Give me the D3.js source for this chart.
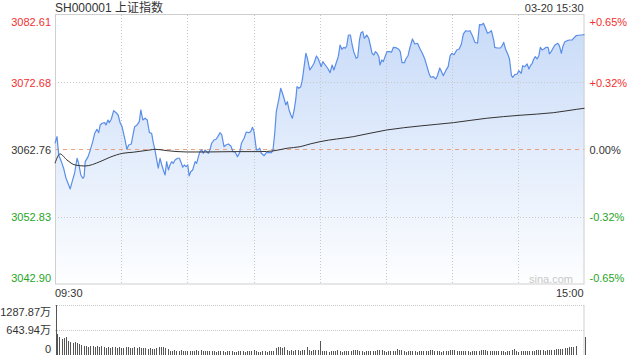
<!DOCTYPE html>
<html><head><meta charset="utf-8">
<script src="https://cdn.jsdelivr.net/npm/d3@7"></script>
<style>
html,body{margin:0;padding:0;background:#fff;}
svg{display:block;font-family:"Liberation Sans","Noto Sans CJK SC",sans-serif;}
</style></head>
<body><svg id="c" width="640" height="360"></svg>
<script>
const title = "SH000001 上证指数";
const stamp = "03-20 15:30";
const preClose = 3062.76;
const priceTicks = [3082.61, 3072.68, 3062.76, 3052.83, 3042.90];
const pctTicks = ["+0.65%", "+0.32%", "0.00%", "-0.32%", "-0.65%"];
const timeLabels = ["09:30", "15:00"];
const volTicks = [1287.87, 643.94, 0];
const volTickLabels = ["1287.87万", "643.94万", "0"];

const priceTimes = [0,0.9,1.7,2.9,3.9,5.0,6.2,6.9,8.0,8.9,10.0,10.7,11.7,12.6,13.2,13.7,15.0,16.0,17.1,18.0,19.0,19.8,20.5,21.3,22.5,23.1,24.0,24.6,25.5,26.6,27.7,28.6,29.6,30.4,31.6,32.6,33.4,34.6,35.2,36.1,37.2,38.2,38.9,
39.8,40.8,41.8,42.8,43.8,44.6,45.3,46.1,46.8,47.6,48.4,49.1,49.9,50.6,51.4,52.1,52.9,53.6,54.4,55.5,56.4,57.0,57.9,58.6,59.4,60.2,60.8,61.5,62.4,63.5,64.2,65.0,65.7,66.5,67.2,68.0,68.8,69.5,70.3,71.0,72.1,73.0,73.8,74.8,75.6,76.6,77.5,78.6,
79.7,80.7,81.7,82.7,83.7,84.5,85.7,86.7,87.8,88.7,89.5,90.2,90.8,91.3,92.0,92.8,93.5,94.8,95.8,96.9,98.1,98.8,99.6,100.3,101.4,102.3,103.1,103.8,104.6,105.3,106.1,106.9,107.6,108.4,109.1,109.7,110.5,111.4,112.1,112.9,113.7,114.4,115.5,116.5,117.4,118.5,119.2,120.1,
120.6,121.4,122.5,123.6,124.7,125.6,126.4,127.4,128.4,129.2,130.0,130.9,131.6,132.2,133.0,133.9,134.7,135.4,136.5,137.2,138.0,138.7,139.5,140.2,141.3,142.2,142.9,143.7,144.5,145.2,146.0,146.8,147.3,148.1,148.8,149.6,150.5,151.6,152.5,153.4,154.6,155.8,156.5,157.3,158.4,
159.0,160.0,160.9,162.0,163.1,164.3,165.5,166.5,167.6,168.5,169.6,170.3,171.5,172.6,173.3,174.4,175.1,176.0,177.1,178.2,179.1,179.9,180.9,182.1,183.2,184.2,185.1,186.2,187.2,188.1,189.2,190.3,191.5,192.4,193.3,194.2,195.3,196.0,196.9,197.8,
198.9,199.3,200.4,201.9,202.7,203.4,204.2,205.2,206.0,206.9,207.5,208.4,209.5,210.2,211.3,212.0,212.9,214.0,214.8,215.5,216.3,217.0,217.7,218.5,219.3,220.0,220.8,221.6,222.6,223.5,224.1,225.0,226.1,226.8,227.9,228.6,229.5,230.3,231.1,232.1,233.2,234.4,235.2,236.2,237.4,238.6,240];

const prices = [3063.67,3064.65,3061.95,3060.96,3059.99,3058.51,3057.52,3056.93,3058.26,3059.29,3061.46,3060.72,3059.00,3058.51,3058.75,3060.96,3061.70,3062.69,3063.91,3065.15,3065.74,3065.24,3066.38,3066.63,3066.72,3066.38,3067.11,3066.72,3067.22,3068.49,3068.19,3067.85,3066.63,3066.13,3064.41,3062.79,3063.42,3063.57,3064.65,3066.13,3066.38,3066.86,3068.59,
3067.11,3067.37,3067.11,3065.24,3065.15,3063.68,3062.69,3061.21,3059.99,3061.46,3060.47,3059.73,3059.00,3060.96,3059.73,3060.47,3060.96,3060.72,3061.21,3061.46,3061.46,3060.96,3060.13,3060.47,3060.22,3060.47,3058.85,3059.48,3059.73,3060.96,3060.72,3061.70,3062.44,3062.69,3062.20,3062.69,3062.44,3062.20,3062.79,3063.68,3064.16,3064.27,3064.65,3065.24,3064.90,3063.17,3063.42,3063.57,
3063.28,3062.44,3062.35,3061.70,3062.29,3063.68,3064.41,3065.34,3065.24,3065.39,3066.04,3065.39,3063.91,3062.69,3062.69,3062.94,3062.20,3061.84,3062.29,3062.29,3062.29,3062.69,3065.15,3068.34,3070.07,3071.79,3071.06,3070.32,3069.33,3069.82,3068.59,3067.85,3067.37,3068.59,3070.07,3072.03,3071.79,3072.03,3073.02,3074.98,3076.96,3076.22,3074.49,3074.98,3075.48,3076.56,3076.22,3075.48,
3074.98,3075.72,3075.23,3074.75,3074.10,3075.23,3074.49,3075.48,3076.46,3078.18,3077.55,3077.84,3077.70,3078.04,3079.66,3079.66,3078.18,3077.20,3076.22,3076.37,3078.92,3080.00,3080.15,3079.17,3079.66,3079.17,3078.18,3076.96,3076.71,3077.20,3076.96,3076.46,3075.23,3075.97,3075.72,3076.46,3077.20,3077.20,3077.11,3077.84,3077.79,3077.55,3077.20,3075.57,3075.57,
3076.12,3076.60,3077.84,3079.07,3078.33,3078.44,3077.59,3076.96,3076.12,3075.13,3073.90,3073.42,3073.51,3073.17,3073.65,3074.79,3074.30,3073.65,3074.39,3074.98,3076.60,3076.96,3076.75,3077.45,3077.59,3078.33,3079.81,3080.29,3080.21,3080.29,3079.56,3078.58,3078.44,3081.18,3081.14,3081.39,3080.55,3079.91,3080.06,3080.29,
3078.82,3077.84,3077.74,3077.74,3078.08,3078.58,3077.59,3076.86,3076.12,3073.65,3073.42,3073.80,3073.90,3074.39,3074.01,3075.13,3074.98,3075.38,3074.64,3075.13,3075.48,3076.12,3076.46,3076.12,3076.60,3077.84,3077.45,3077.59,3077.84,3077.84,3076.86,3077.25,3077.93,3078.23,3078.44,3078.08,3076.96,3078.08,3078.67,3078.82,3078.92,3078.92,3079.22,3079.56,3079.62,3079.66,3079.70];

const avgTimes = [0,2.3,5.4,9.1,13.6,20.4,24.9,30.8,35.4,43.1,45.3,50.8,59.8,68.9,80.7,93,98.8,105.2,111.1,115.6,120.1,135.2,150.4,165.5,180.6,195.7,210.8,225.9,236.5,240];
const avgPrices = [3060.72,3062.10,3061.21,3060.47,3060.32,3060.96,3061.61,3062.20,3062.35,3062.69,3062.79,3062.58,3062.39,3062.39,3062.44,3062.44,3062.54,3062.94,3063.17,3063.57,3063.91,3064.65,3065.64,3066.23,3066.72,3067.37,3067.81,3068.19,3068.69,3068.84];

const volumes = [1288,541,465,412,430,455,360,327,310,327,
300,283,266,240,232,215,240,223,215,223,
215,240,198,180,206,190,215,198,185,206,
190,175,198,215,185,190,206,180,198,175,
170,185,160,175,150,165,180,205,195,210,
180,165,115,110,120,105,112,118,108,100,
110,95,115,108,120,100,118,105,95,110,
100,92,108,85,100,95,105,88,98,92,
105,90,85,100,95,110,88,92,105,100,
137,95,88,82,100,92,85,95,110,98,
180,215,195,170,200,130,115,125,105,120,
135,110,125,140,215,118,105,120,128,135,
370,
100,95,105,85,98,92,110,137,95,90,
100,110,95,105,137,120,137,95,100,88,
105,95,110,100,92,137,125,130,98,85,
100,92,110,105,146,120,140,100,90,95,
110,100,95,88,105,92,100,110,95,137,
120,95,100,110,88,95,105,100,118,125,
130,115,105,95,100,110,92,88,100,95,
110,100,125,120,130,110,95,100,108,92,
100,110,95,88,105,115,130,163,100,90,
95,105,110,100,92,110,105,125,137,130,
120,110,125,140,135,130,145,150,155,160,
175,185,195,205,215,240,
8,8,8,
455];

const svg = d3.select("#c");
const L = 55, R = 584.5, T = 15, B = 284, VT = 305, VB = 355;
const red = "#f23030", green = "#1fa51f", dark = "#333";

const x = d3.scaleLinear().domain([0, 240]).range([L, R]);
const y = d3.scaleLinear().domain([priceTicks[4], priceTicks[0]]).range([B, T]);
const yv = d3.scaleLinear().domain([0, volTicks[0]]).range([VB, VT]);

// gradient
const defs = svg.append("defs");
const grad = defs.append("linearGradient").attr("id","g").attr("gradientUnits","userSpaceOnUse")
  .attr("x1",0).attr("x2",0).attr("y1",T).attr("y2",B);
grad.append("stop").attr("offset",0).attr("stop-color","#c7daf8");
grad.append("stop").attr("offset",1).attr("stop-color","#fdfeff");

const pts = priceTimes.map((t,i)=>[t, prices[i]]);
svg.append("path").datum(pts).attr("fill","url(#g)")
  .attr("d", d3.area().x(d=>x(d[0])).y0(B).y1(d=>y(d[1])));

// grid
const g = svg.append("g");
d3.range(30, 240, 30).forEach(t=>{
  g.append("line").attr("x1",Math.round(x(t))+0.5).attr("x2",Math.round(x(t))+0.5).attr("y1",T).attr("y2",B)
    .attr("stroke","#c8c8c8").attr("stroke-dasharray","1,2");
});
[priceTicks[1], priceTicks[3]].forEach(p=>{
  g.append("line").attr("x1",L).attr("x2",R).attr("y1",Math.round(y(p))+0.5).attr("y2",Math.round(y(p))+0.5)
    .attr("stroke","#c8c8c8").attr("stroke-dasharray","1,2");
});
g.append("line").attr("x1",L).attr("x2",R).attr("y1",Math.round(y(preClose))+0.5).attr("y2",Math.round(y(preClose))+0.5)
  .attr("stroke","#eea07e").attr("stroke-dasharray","4,4");
// border
svg.append("rect").attr("x",L+0.5).attr("y",T-0.5).attr("width",R-L-1).attr("height",B-T+0.5)
  .attr("fill","none").attr("stroke","#cfcfcf");

// price line
svg.append("path").datum(pts).attr("fill","none").attr("stroke","#5a8ee8").attr("stroke-width",1.2)
  .attr("stroke-linejoin","round")
  .attr("d", d3.line().x(d=>x(d[0])).y(d=>y(d[1])));
// average line
svg.append("path").datum(avgTimes.map((t,i)=>[t,avgPrices[i]])).attr("fill","none").attr("stroke","#333").attr("stroke-width",1)
  .attr("d", d3.line().curve(d3.curveMonotoneX).x(d=>x(d[0])).y(d=>y(d[1])));

// left axis
const colorFor = i => i<2 ? red : (i===2 ? dark : green);
const ax = svg.append("g").attr("transform",`translate(${L-4},0)`)
  .call(d3.axisLeft(y).tickValues(priceTicks).tickSize(0).tickPadding(0).tickFormat(d3.format(".2f")));
ax.select(".domain").remove();
ax.selectAll("text").attr("font-size",11).attr("font-family","Liberation Sans")
  .attr("fill",(d,i)=>colorFor(i))
  .attr("dy",(d,i)=> i===0 ? "0.95em" : (i===4 ? "-0.2em" : "0.35em"));
// right axis
const ay = svg.append("g").attr("transform",`translate(${R+5},0)`)
  .call(d3.axisRight(y).tickValues(priceTicks).tickSize(0).tickPadding(0).tickFormat((d,i)=>pctTicks[i]));
ay.select(".domain").remove();
ay.selectAll("text").attr("font-size",11).attr("font-family","Liberation Sans")
  .attr("fill",(d,i)=>colorFor(i))
  .attr("dy",(d,i)=> i===0 ? "0.95em" : (i===4 ? "-0.2em" : "0.35em"));

// title
svg.append("text").attr("x",L).attr("y",12).attr("font-size",12).attr("fill",dark).text(title);
svg.append("text").attr("x",R-1).attr("y",12).attr("text-anchor","end").attr("font-size",11).attr("fill",dark).text(stamp);
svg.append("text").attr("x",573).attr("y",283).attr("text-anchor","end").attr("font-size",11).attr("fill","#c8c8c8").text("sina.com");

// time labels
svg.append("text").attr("x",L).attr("y",297).attr("font-size",11).attr("fill",dark).text(timeLabels[0]);
svg.append("text").attr("x",R-1).attr("y",297).attr("text-anchor","end").attr("font-size",11).attr("fill",dark).text(timeLabels[1]);

// volume panel
[volTicks[0], volTicks[1]].forEach(v=>{
  svg.append("line").attr("x1",L).attr("x2",R).attr("y1",Math.round(yv(v))+0.5).attr("y2",Math.round(yv(v))+0.5)
    .attr("stroke","#c8c8c8").attr("stroke-dasharray","1,1");
});
svg.append("line").attr("x1",R-0.5).attr("x2",R-0.5).attr("y1",VT).attr("y2",VB).attr("stroke","#cfcfcf");
svg.append("g").selectAll("rect").data(volumes).join("rect")
  .attr("x",(d,i)=>Math.round(x(i)) + (i===0?0.5:0) ).attr("width",1)
  .attr("y",d=>yv(d)).attr("height",d=>VB-yv(d))
  .attr("fill","#555").attr("shape-rendering","crispEdges");
const av = svg.append("g").attr("transform",`translate(${L-4},0)`)
  .call(d3.axisLeft(yv).tickValues(volTicks).tickSize(0).tickPadding(0).tickFormat((d,i)=>volTickLabels[i]));
av.select(".domain").remove();
av.selectAll("text").attr("font-size",11).attr("font-family","Liberation Sans, Noto Sans CJK SC").attr("fill",dark)
  .attr("dy",(d,i)=> i===0 ? "0.95em" : (i===2 ? "-0.2em" : "0.35em"));
</script></body></html>
